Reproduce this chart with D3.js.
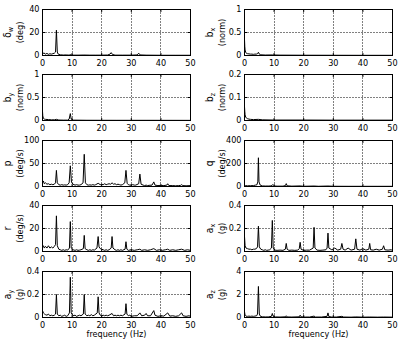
<!DOCTYPE html>
<html>
<head>
<meta charset="utf-8">
<script src="https://cdn.jsdelivr.net/npm/d3@7"></script>
<style>
  html, body { margin: 0; padding: 0; background: #fff; }
  svg { display: block; font-family: "Liberation Sans Narrow", "DejaVu Sans Condensed", Arial, sans-serif; }
</style>
</head>
<body>
<svg id="chart" width="400" height="343"></svg>
<script>
// Frequency axis shared by every panel (Hz)
const freqDomain = [0, 50];
const freqTicks = [0, 10, 20, 30, 40, 50];

// Amplitude spectra: [frequency (Hz), amplitude] vertices
const deltaW = [[0,1.5],[0.5,2.2],[1,1.2],[1.5,1.8],[2,1.0],[2.5,1.5],[3,1.2],[3.5,1.6],[4,2.0],[4.4,3],[4.7,22],[5.0,3],[5.3,1.2],[6,0.6],[7,0.4],[8,0.5],[9,0.3],[9.4,0.8],[10,0.3],[12,0.3],[14,0.4],[16,0.3],[18,0.3],[20,0.3],[22,0.4],[22.8,1.2],[23.2,2.5],[23.6,1.0],[24.5,0.3],[27,0.3],[30,0.3],[32,0.5],[32.5,2.0],[33,0.5],[35,0.3],[40,0.2],[45,0.2],[50,0.2]];
const bX = [[0,0.35],[0.1,0.2],[0.2,0.12],[0.4,0.07],[0.6,0.05],[1,0.04],[1.5,0.035],[2,0.03],[2.5,0.03],[3,0.025],[3.5,0.03],[4,0.03],[4.4,0.04],[4.7,0.07],[5.0,0.03],[5.5,0.015],[7,0.01],[9.4,0.012],[12,0.008],[20,0.006],[30,0.005],[40,0.004],[50,0.004]];
const bY = [[0,0.2],[0.1,0.1],[0.3,0.05],[0.6,0.03],[1,0.025],[2,0.02],[3,0.015],[4,0.015],[4.7,0.025],[5.5,0.01],[7,0.008],[8.5,0.008],[9.0,0.03],[9.4,0.15],[9.7,0.03],[10.5,0.008],[15,0.005],[25,0.004],[35,0.004],[50,0.003]];
const bZ = [[0,0.06],[0.1,0.04],[0.2,0.025],[0.4,0.015],[0.7,0.01],[1,0.008],[1.5,0.006],[2,0.005],[3,0.004],[4.7,0.005],[6,0.003],[10,0.002],[20,0.002],[30,0.0015],[50,0.0015]];
const rateP = [[0,8],[0.3,12],[0.6,6],[1,8],[1.5,5],[2,6],[2.5,4],[3,5],[3.5,4],[4,5],[4.4,8],[4.7,35],[5.0,8],[5.5,4],[6,3],[6.5,4],[7,3],[7.5,3.5],[8,3],[8.5,4],[9.0,8],[9.4,45],[9.8,9],[10.3,5],[11,3],[11.5,4],[12,3],[12.5,3],[13,4],[13.7,8],[14.1,70],[14.5,8],[15,4],[15.5,3],[16,3.5],[16.5,3],[17,4],[17.5,3],[18,4],[18.8,7],[19.5,4],[20,5],[20.5,4],[21,6],[21.5,4],[22,5],[22.5,6],[23,5],[23.5,8],[24,5],[24.5,6],[25,4],[25.5,5],[26,4],[26.5,3],[27,4],[27.8,8],[28.2,35],[28.6,7],[29,4],[29.5,3],[30,3],[30.5,4],[31,3],[31.5,3],[32.5,6],[32.9,27],[33.3,5],[34,3],[34.5,2],[35,3],[35.5,2],[36,2.5],[37,3],[37.6,10],[38,3],[39,2],[40,2.5],[41,2],[42,3],[42.3,6],[42.7,2],[44,2],[45,1.5],[46,2],[46.7,2.5],[47,4],[47.4,2],[48.5,1.5],[50,2]];
const rateQ = [[0,15],[0.3,8],[1,6],[2,7],[3,8],[3.7,12],[4.2,15],[4.5,40],[4.7,250],[4.9,40],[5.3,12],[6,5],[7,4],[8,4],[9,5],[9.4,15],[9.8,5],[11,3],[13,3],[13.8,8],[14.1,25],[14.4,6],[16,3],[18.8,5],[20,2],[23.5,4],[25,2],[28.2,4],[30,2],[35,1.5],[40,1.5],[45,1.5],[50,1.5]];
const rateR = [[0,4],[0.3,5],[0.6,3],[1,4.5],[1.5,3],[2,5],[2.5,3],[3,4],[3.5,3],[4,4.5],[4.4,6],[4.7,31],[5.0,5],[5.5,2],[6,1.5],[6.5,1],[7,1.5],[7.5,1],[8,1.5],[8.5,1.2],[9.1,3],[9.4,26],[9.7,3],[10.3,1.5],[11,1],[11.5,1.5],[12,1],[12.5,1.2],[13,1.5],[13.8,2.5],[14.1,14],[14.4,2.5],[15,1.5],[15.5,1],[16,1.5],[16.5,1],[17,1.5],[17.5,1.2],[18.4,3],[18.8,13],[19.1,4],[19.5,2.5],[20,2],[20.5,1.5],[21,1],[21.5,1.5],[22,1],[22.5,1.5],[23.2,3],[23.5,13],[23.8,3],[24.5,1.5],[25,1],[25.5,1.5],[26,1],[26.5,1.5],[27,1],[27.9,2],[28.2,8.5],[28.5,2],[29,1],[30,1.5],[31,1],[32,1.5],[32.9,2],[33.5,1],[34.5,1.5],[35.5,1],[36.5,1.5],[37.6,2.5],[38.5,1],[39.5,1.5],[40.5,1],[41.5,1.5],[42.3,2],[43,1],[44,1.5],[45,1],[46,1.5],[47,2],[48,1],[49,1.5],[50,1]];
const accX = [[0,0.13],[0.2,0.05],[0.5,0.03],[1,0.025],[1.5,0.02],[2,0.02],[2.5,0.015],[3,0.02],[3.5,0.02],[4,0.025],[4.4,0.04],[4.7,0.22],[5.0,0.04],[5.5,0.02],[6,0.015],[6.5,0.01],[7,0.015],[7.5,0.01],[8,0.012],[8.5,0.015],[9.1,0.03],[9.4,0.27],[9.7,0.03],[10.3,0.012],[11,0.01],[12,0.012],[13,0.01],[13.8,0.02],[14.1,0.07],[14.4,0.02],[15,0.01],[16,0.012],[17,0.01],[18,0.012],[18.5,0.025],[18.8,0.08],[19.1,0.02],[20,0.01],[21,0.012],[22,0.012],[23.2,0.03],[23.5,0.21],[23.8,0.03],[24.5,0.012],[25.5,0.01],[26.5,0.012],[27.5,0.015],[27.9,0.03],[28.2,0.16],[28.5,0.03],[29.5,0.015],[30.5,0.03],[31.5,0.012],[32.5,0.02],[32.9,0.07],[33.3,0.02],[34,0.012],[35,0.03],[36,0.012],[37.2,0.02],[37.6,0.11],[38,0.02],[39,0.012],[40,0.025],[41,0.012],[42,0.02],[42.3,0.07],[42.6,0.015],[43.5,0.012],[44.5,0.02],[45.5,0.012],[46.6,0.02],[47,0.05],[47.4,0.015],[48.5,0.012],[49.5,0.015],[50,0.01]];
const accY = [[0,0.06],[0.3,0.04],[0.7,0.03],[1,0.025],[1.5,0.02],[2,0.03],[2.5,0.015],[3,0.02],[3.5,0.015],[4,0.02],[4.4,0.03],[4.7,0.2],[5.0,0.03],[5.5,0.015],[6,0.02],[6.5,0.01],[7,0.015],[7.5,0.02],[8,0.01],[8.5,0.015],[9.1,0.04],[9.4,0.35],[9.7,0.04],[10.3,0.015],[11,0.02],[11.5,0.01],[12,0.015],[12.5,0.02],[13,0.015],[13.8,0.03],[14.1,0.2],[14.4,0.03],[15,0.015],[15.5,0.02],[16,0.015],[16.5,0.025],[17,0.015],[17.5,0.02],[18.5,0.04],[18.8,0.18],[19.1,0.04],[19.5,0.02],[20,0.015],[20.5,0.02],[21,0.015],[21.5,0.02],[22,0.015],[22.5,0.02],[23.5,0.035],[24,0.015],[24.5,0.02],[25,0.015],[25.5,0.02],[26,0.015],[26.5,0.02],[27,0.015],[27.9,0.03],[28.2,0.12],[28.5,0.03],[29,0.015],[29.5,0.02],[30,0.01],[31,0.015],[32,0.015],[32.9,0.04],[33.5,0.015],[34.5,0.02],[35,0.035],[35.5,0.015],[36.5,0.015],[37.6,0.06],[38,0.02],[39,0.01],[40,0.015],[41,0.012],[42.3,0.04],[43,0.012],[44,0.015],[45,0.01],[46,0.015],[47,0.04],[47.5,0.015],[48.5,0.01],[49.5,0.015],[50,0.01]];
const accZ = [[0,0.5],[0.2,0.2],[0.5,0.12],[1,0.1],[1.5,0.12],[2,0.1],[2.5,0.12],[3,0.1],[3.5,0.12],[4.1,0.15],[4.4,0.3],[4.7,2.7],[5.0,0.3],[5.4,0.1],[6,0.06],[7,0.05],[8,0.05],[9.1,0.1],[9.4,0.35],[9.7,0.1],[10.5,0.05],[12,0.04],[13.8,0.06],[14.1,0.15],[14.4,0.05],[16,0.04],[18.5,0.06],[18.8,0.2],[19.1,0.06],[20.5,0.04],[22,0.04],[23.5,0.12],[24,0.04],[26,0.04],[27.9,0.1],[28.2,0.4],[28.5,0.08],[29.5,0.04],[31,0.04],[32.9,0.1],[33.5,0.04],[36,0.03],[37.6,0.05],[40,0.03],[42.3,0.04],[45,0.03],[47,0.04],[50,0.03]];

// Panel labels (symbol, subscript, unit) and y tick values
const symbols   = ["δ", "b", "b", "b", "p", "q", "r", "a", "a", "a"];
const subscripts = ["w", "x", "y", "z", "", "", "", "x", "y", "z"];
const units     = ["(deg)", "(norm)", "(norm)", "(norm)", "(deg/s)", "(deg/s)", "(deg/s)", "(g)", "(g)", "(g)"];
const yTicks = [
  [0, 20, 40], [0, 0.5, 1], [0, 0.5, 1], [0, 0.1, 0.2], [0, 50, 100],
  [0, 200, 400], [0, 20, 40], [0, 0.2, 0.4], [0, 0.2, 0.4], [0, 2, 4]
];
const yTickLabels = [
  ["0", "20", "40"], ["0", "0.5", "1"], ["0", "0.5", "1"], ["0", "0.1", "0.2"], ["0", "50", "100"],
  ["0", "200", "400"], ["0", "20", "40"], ["0", "0.2", "0.4"], ["0", "0.2", "0.4"], ["0", "2", "4"]
];
const spectra = [deltaW, bX, bY, bZ, rateP, rateQ, rateR, accX, accY, accZ];

// Grid layout (5 rows x 2 columns, row-major order); half-pixel offsets keep 1px strokes crisp
const colLeft = [42.5, 244.5];
const plotW = 148;
const rowTop = [9.5, 74.5, 140.5, 205.5, 271.5];
const plotH = 46;
const tickLen = 2.5;
const fontSize = 9;
const fontFamily = "'Liberation Sans Narrow', 'DejaVu Sans Condensed', Arial, sans-serif";

const svg = d3.select("#chart");

spectra.forEach((series, i) => {
  const col = i % 2, row = Math.floor(i / 2);
  const x0 = colLeft[col], y0 = rowTop[row];
  const ticksY = yTicks[i];
  const yMax = ticksY[ticksY.length - 1];

  const x = d3.scaleLinear().domain(freqDomain).range([0, plotW]);
  const y = d3.scaleLinear().domain([0, yMax]).range([plotH, 0]);

  const g = svg.append("g").attr("transform", `translate(${x0},${y0})`);

  // dotted grid at interior ticks
  const grid = g.append("g").attr("stroke", "#000").attr("stroke-width", 1)
    .attr("stroke-dasharray", "1,2");
  freqTicks.slice(1, -1).forEach(f => {
    const px = Math.round(x(f));
    grid.append("line").attr("x1", px).attr("x2", px).attr("y1", 0).attr("y2", plotH);
  });
  ticksY.slice(1, -1).forEach(v => {
    const py = Math.round(y(v));
    grid.append("line").attr("x1", 0).attr("x2", plotW).attr("y1", py).attr("y2", py);
  });

  // spectrum trace
  const clipId = `clip${i}`;
  g.append("clipPath").attr("id", clipId).append("rect")
    .attr("x", 0).attr("y", 0).attr("width", plotW).attr("height", plotH);
  const line = d3.line().x(d => x(d[0])).y(d => y(d[1]));
  g.append("path").datum(series)
    .attr("clip-path", `url(#${clipId})`)
    .attr("fill", "none").attr("stroke", "#000").attr("stroke-width", 1)
    .attr("stroke-linejoin", "miter")
    .attr("d", line);

  // bottom and left axes with inward ticks and tick labels
  const xAxis = d3.axisBottom(x).tickValues(freqTicks).tickFormat(d3.format("d"))
    .tickSizeInner(-tickLen).tickSizeOuter(0).tickPadding(4).offset(0);
  const gx = g.append("g").attr("transform", `translate(0,${plotH})`).call(xAxis);
  const yAxis = d3.axisLeft(y).tickValues(ticksY).tickFormat((d, k) => yTickLabels[i][k])
    .tickSizeInner(-tickLen).tickSizeOuter(0).tickPadding(3).offset(0);
  const gy = g.append("g").call(yAxis);
  // mirrored ticks on top and right edges
  const gt = g.append("g").call(d3.axisTop(x).tickValues(freqTicks).tickFormat("")
    .tickSizeInner(-tickLen).tickSizeOuter(0).offset(0));
  const gr = g.append("g").attr("transform", `translate(${plotW},0)`)
    .call(d3.axisRight(y).tickValues(ticksY).tickFormat("").tickSizeInner(-tickLen).tickSizeOuter(0).offset(0));
  [gx, gy, gt, gr].forEach(a => {
    a.select(".domain").remove();
    a.selectAll("line").attr("stroke", "#000");
    a.selectAll("text").attr("fill", "#000").attr("font-size", fontSize)
      .attr("font-family", fontFamily);
  });
  gx.selectAll("text").attr("dy", "0.71em");

  // frame
  g.append("rect").attr("x", 0).attr("y", 0).attr("width", plotW).attr("height", plotH)
    .attr("fill", "none").attr("stroke", "#000").attr("stroke-width", 1);

  // two-line rotated y label: symbol with subscript, then unit
  const cy = plotH / 2;
  const lab = g.append("text")
    .attr("transform", `translate(${-32},${cy}) rotate(-90)`)
    .attr("text-anchor", "middle").attr("font-size", fontSize + 1)
    .attr("font-family", fontFamily).attr("fill", "#000");
  lab.append("tspan").text(symbols[i]);
  if (subscripts[i]) {
    lab.append("tspan").attr("dy", 2).attr("font-size", 7).text(subscripts[i]);
  }
  g.append("text")
    .attr("transform", `translate(${-20},${cy}) rotate(-90)`)
    .attr("text-anchor", "middle").attr("font-size", fontSize)
    .attr("font-family", fontFamily).attr("fill", "#000")
    .text(units[i]);

  // frequency label under the bottom row
  if (row === 4) {
    g.append("text").attr("x", plotW / 2).attr("y", plotH + 19)
      .attr("text-anchor", "middle").attr("font-size", fontSize)
      .attr("font-family", fontFamily).attr("fill", "#000")
      .text("frequency (Hz)");
  }
});
</script>
</body>
</html>
